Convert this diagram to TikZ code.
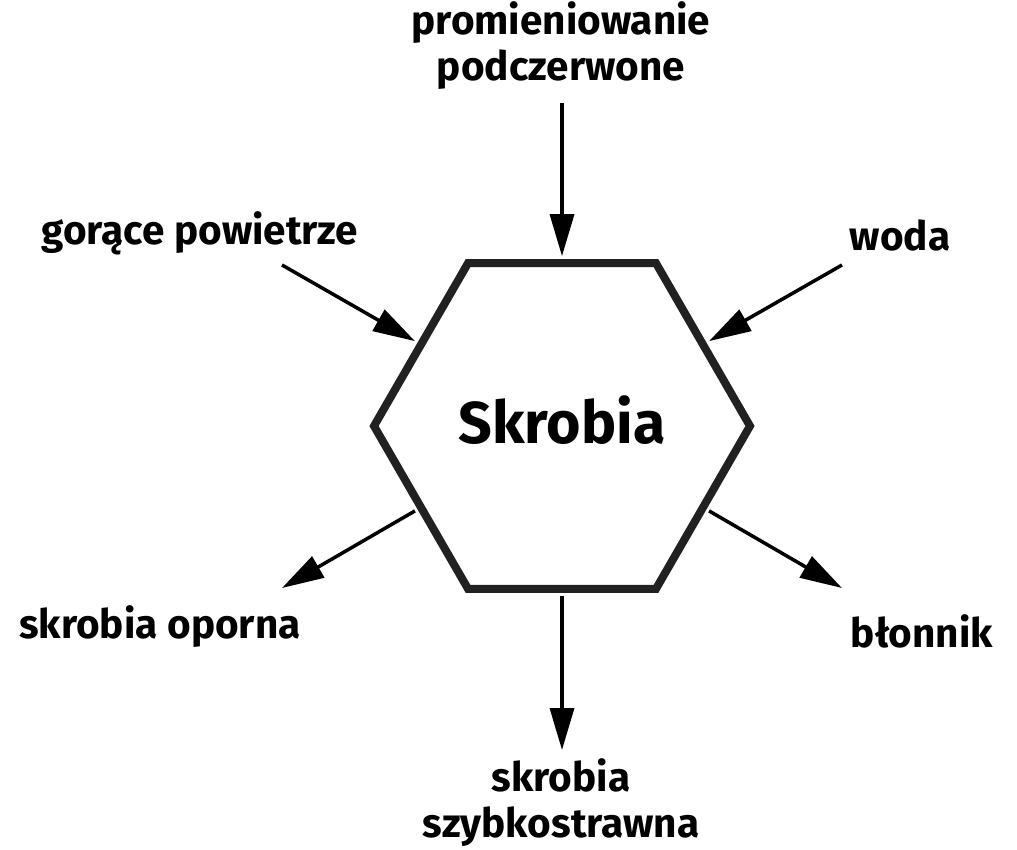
\documentclass[tikz,border=0pt]{standalone}
\usepackage{fontspec}
\setmainfont{Fira Sans}
\usetikzlibrary{shapes.geometric, arrows.meta}
\tikzset{
    lbl/.style={font=\bfseries\fontsize{40.5}{46}\selectfont, inner sep=0pt, align=center},
    arr/.style={-{Triangle[length=42pt, width=24pt]}, line width=3.5pt},
}
\begin{document}
\begin{tikzpicture}[x=1pt, y=-1pt]
        \useasboundingbox (0, 0) rectangle (1017, 849);
        \node[regular polygon, regular polygon sides=6, minimum size=376pt, draw=black!87, line width=8pt, text height=34pt, text depth=0pt, font=\bfseries\fontsize{59}{70}\selectfont] (hex) at (562, 426) {Skrobia};
        % labels (base = last line)
        \node[lbl, anchor=base] (ir) at (561, 80) {promieniowanie\\podczerwone};
        \node[lbl, anchor=base] (air) at (200, 244) {gorące powietrze};
        \node[lbl, anchor=base] (water) at (900, 250) {woda};
        \node[lbl, anchor=base] (resist) at (160, 638) {skrobia oporna};
        \node[lbl, anchor=base] (fibre) at (922, 647) {błonnik};
        \node[lbl, anchor=base] (rapid) at (561, 837) {skrobia\\szybkostrawna};
        % free ends of the arrows
        \coordinate (irA) at (562, 103);
        \coordinate (airA) at (282, 265);
        \coordinate (waterA) at (842, 265);
        \coordinate (resistA) at (282, 588);
        \coordinate (fibreA) at (842, 588);
        \coordinate (rapidA) at (562, 750);
        % in
        \draw[arr, shorten >=3pt] (irA) -- (hex.90);
        \draw[arr, shorten >=3pt] (airA) -- (hex.150);
        \draw[arr, shorten >=3pt] (waterA) -- (hex.30);
        % out
        \draw[arr, shorten <=3pt] (hex.210) -- (resistA);
        \draw[arr, shorten <=3pt] (hex.330) -- (fibreA);
        \draw[arr, shorten <=3pt] (hex.270) -- (rapidA);
\end{tikzpicture}
\end{document}
